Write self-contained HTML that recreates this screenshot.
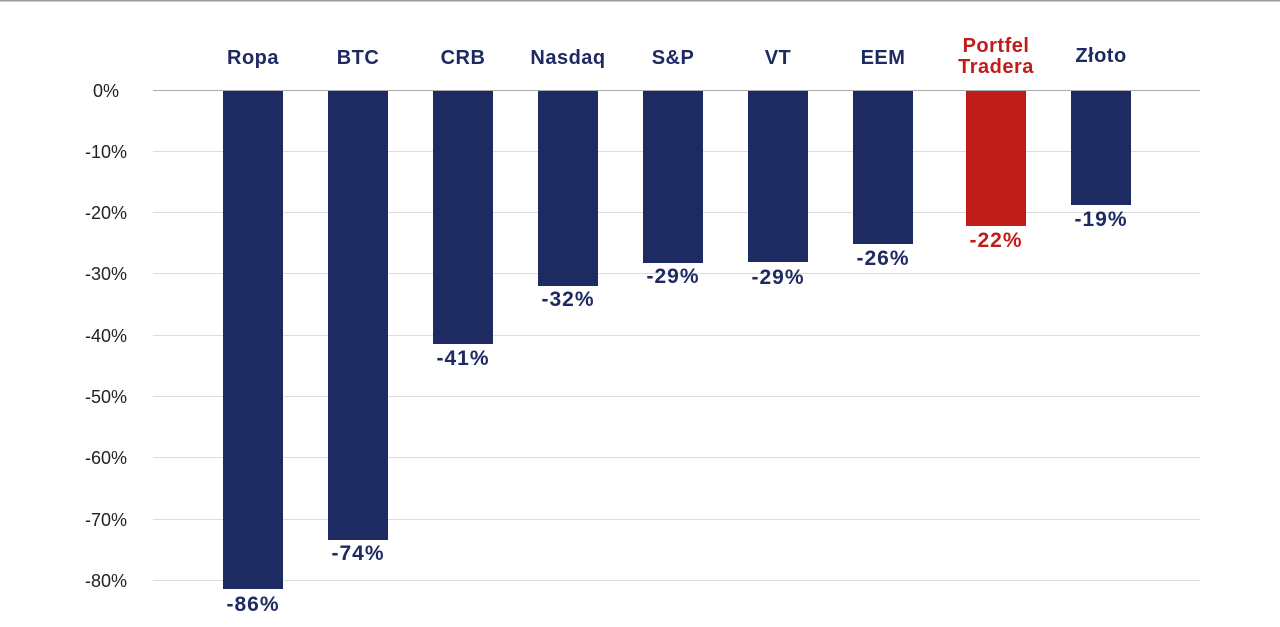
<!DOCTYPE html>
<html><head><meta charset="utf-8"><style>
body{margin:0;width:1280px;height:622px;background:#fff;overflow:hidden;font-family:"Liberation Sans",sans-serif}
</style></head><body>
<svg width="1280" height="622" xmlns="http://www.w3.org/2000/svg" font-family="Liberation Sans, sans-serif">
<line x1="0" y1="0.5" x2="1280" y2="0.5" stroke="#999" stroke-width="2"/>
<g stroke="#ddd" stroke-width="1">
<line x1="153" y1="151.5" x2="1200" y2="151.5"/>
<line x1="153" y1="212.5" x2="1200" y2="212.5"/>
<line x1="153" y1="273.5" x2="1200" y2="273.5"/>
<line x1="153" y1="335.5" x2="1200" y2="335.5"/>
<line x1="153" y1="396.5" x2="1200" y2="396.5"/>
<line x1="153" y1="457.5" x2="1200" y2="457.5"/>
<line x1="153" y1="519.5" x2="1200" y2="519.5"/>
<line x1="153" y1="580.5" x2="1200" y2="580.5"/>
</g>
<g font-size="18" fill="#222" text-anchor="middle">
<text x="106" y="97">0%</text>
<text x="106" y="158">-10%</text>
<text x="106" y="219">-20%</text>
<text x="106" y="280">-30%</text>
<text x="106" y="342">-40%</text>
<text x="106" y="403">-50%</text>
<text x="106" y="464">-60%</text>
<text x="106" y="526">-70%</text>
<text x="106" y="587">-80%</text>
</g>
<g fill="#1e2a62">
<rect x="223" y="90" width="60" height="499"/>
<rect x="328" y="90" width="60" height="450"/>
<rect x="433" y="90" width="60" height="254"/>
<rect x="538" y="90" width="60" height="196"/>
<rect x="643" y="90" width="60" height="173"/>
<rect x="748" y="90" width="60" height="172"/>
<rect x="853" y="90" width="60" height="154"/>
<rect x="1071" y="90" width="60" height="115"/>
</g>
<rect x="966" y="90" width="60" height="136" fill="#c01d1a"/>
<line x1="153" y1="90.5" x2="1200" y2="90.5" stroke="#aaa" stroke-width="1"/>
<g font-size="20" font-weight="bold" fill="#1e2a62" text-anchor="middle" letter-spacing="0.5">
<text x="253" y="64">Ropa</text>
<text x="358" y="64">BTC</text>
<text x="463" y="64">CRB</text>
<text x="568" y="64">Nasdaq</text>
<text x="673" y="64">S&amp;P</text>
<text x="778" y="64">VT</text>
<text x="883" y="64">EEM</text>
<text x="996" y="52" fill="#c01d1a">Portfel</text>
<text x="996" y="73" fill="#c01d1a">Tradera</text>
<text x="1101" y="62">Złoto</text>
</g>
<g font-size="21" font-weight="bold" fill="#1e2a62" text-anchor="middle" letter-spacing="1">
<text x="253" y="611">-86%</text>
<text x="358" y="560">-74%</text>
<text x="463" y="365">-41%</text>
<text x="568" y="306">-32%</text>
<text x="673" y="283">-29%</text>
<text x="778" y="284">-29%</text>
<text x="883" y="265">-26%</text>
<text x="996" y="247" fill="#c01d1a">-22%</text>
<text x="1101" y="226">-19%</text>
</g>
</svg>
</body></html>
